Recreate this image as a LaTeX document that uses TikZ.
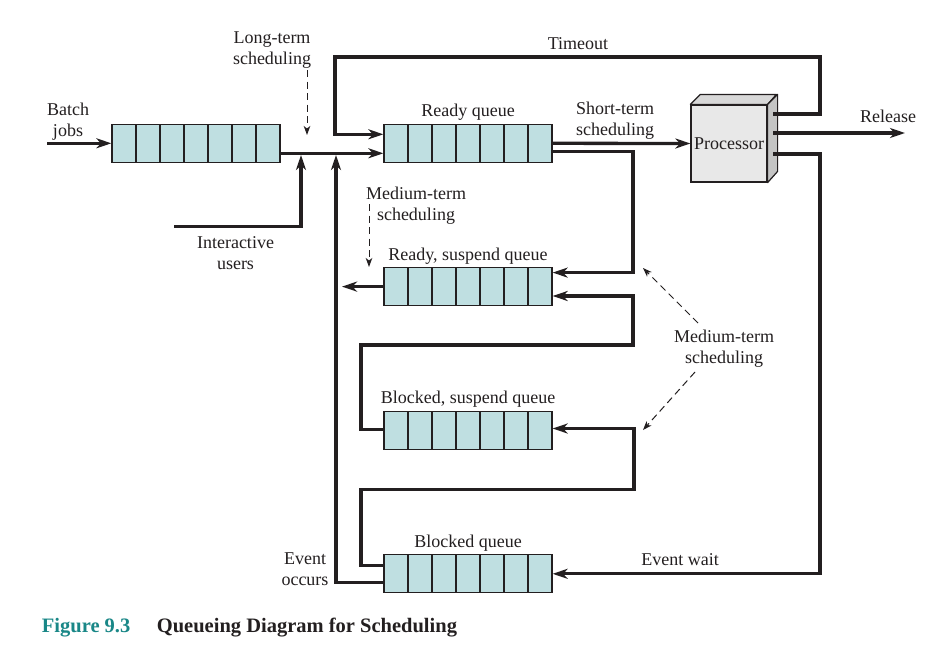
\documentclass[tikz,border=0pt]{standalone}
\usepackage{fontspec}
\setmainfont{Liberation Serif}
\usetikzlibrary{arrows.meta}
\definecolor{qfill}{RGB}{191,223,225}
\definecolor{procfront}{RGB}{232,232,232}
\definecolor{procside}{RGB}{196,196,196}
\definecolor{proctop}{RGB}{216,216,216}
\definecolor{ink}{RGB}{35,31,32}
\definecolor{figteal}{RGB}{25,135,135}
\begin{document}
\begin{tikzpicture}[x=1pt,y=-1pt,
  queue/.style={draw=ink, line width=1.3pt, fill=qfill, minimum width=168pt, minimum height=38pt, inner sep=0pt,
    path picture={\foreach \k in {1,...,6}{\draw[line width=1.3pt, ink] ([xshift={\k*24pt}]path picture bounding box.south west) -- ([xshift={\k*24pt}]path picture bounding box.north west);}}},
  procbox/.style={draw=ink, line width=1.2pt, fill=procfront, minimum width=76pt, minimum height=77pt, inner sep=0pt, font=\fontsize{18}{21}\selectfont, text=ink},
  conn/.style={draw=ink, line width=3.3pt},
  connarr/.style={conn, -{Stealth[length=15pt,width=10pt,inset=4.5pt]}},
  dconn/.style={draw=ink, line width=1pt, dash pattern=on 7pt off 4.5pt, -{Stealth[length=9pt,width=6.5pt,inset=2.5pt]}},
  lbl/.style={font=\fontsize{18}{21}\selectfont, align=center, inner sep=0pt, text=ink}
]
\fill[white] (0,0) rectangle (947,654);
\useasboundingbox (0,0) rectangle (947,654);

% queues
\node[queue] (batch) at (196,143.3) {};
\node[queue] (ready) at (468,143.3) {};
\node[queue] (rsusp) at (468,286.6) {};
\node[queue] (bsusp) at (468,430.5) {};
\node[queue] (blocked) at (468,573.8) {};

% processor
\node[procbox] (proc) at (729,143.5) {Processor};
\filldraw[fill=proctop, draw=ink, line width=1.2pt, line join=round] (proc.north west) -- ++(10,-10) -- ++(76,0) -- (proc.north east) -- cycle;
\filldraw[fill=procside, draw=ink, line width=1.2pt, line join=round] (proc.north east) -- ++(10,-10) -- ++(0,77) -- (proc.south east) -- cycle;

% coordinates
\coordinate (bin) at (47,143.3);
\coordinate (iu) at (174,226.7);
\coordinate (iut) at (301,155);
\coordinate (eot) at (336,155);
\coordinate (pout1) at (773,114);
\coordinate (pout2) at (773,133);
\coordinate (pout3) at (773,154);
\coordinate (to1) at (820,57);
\coordinate (to2) at (335,134.3);
\coordinate (rel) at (905,133);
\coordinate (ew) at (820,573.8);
\coordinate (c1) at (633,272.6);
\coordinate (c2) at (361,345);
\coordinate (c3) at (633,296);
\coordinate (rso) at (342,286.6);
\coordinate (c4) at (361,489.3);
\coordinate (c5) at (634,428.5);
\coordinate (lt1) at (307,70);
\coordinate (lt2) at (307,135);
\coordinate (mt1) at (369,204);
\coordinate (mt2) at (369,267);
\coordinate (mr1) at (698,323);
\coordinate (mr2) at (643,268);
\coordinate (mr3) at (695,372);
\coordinate (mr4) at (643,430);

% connectors
\draw[connarr] (bin) -- (batch.west);
\draw[connarr] ([yshift=-10pt]batch.east) -- ([yshift=-10pt]ready.west);
\draw[connarr] (iu) -| (iut);
\draw[connarr] ([yshift=-9pt]blocked.west) -| (eot);
\draw[connarr] (pout1) -| (to1) -| (to2) -- ([yshift=9pt]ready.west);
\draw[connarr] (ready.east) -- (proc.west);
\draw[connarr] (pout2) -- (rel);
\draw[connarr] (pout3) -| (ew) -- (blocked.east);
\draw[connarr] ([yshift=-8.5pt]ready.east) -| (c1) -- ([yshift=14pt]rsusp.east);
\draw[connarr] ([yshift=1pt]bsusp.west) -| (c2) -| (c3) -- ([yshift=-9.4pt]rsusp.east);
\draw[connarr] (rsusp.west) -- (rso);
\draw[connarr] ([yshift=8pt]blocked.west) -| (c4) -| (c5) -- ([yshift=2pt]bsusp.east);

% dashed scheduling arrows
\draw[dconn] (lt1) -- (lt2);
\draw[dconn] (mt1) -- (mt2);
\draw[dconn] (mr1) -- (mr2);
\draw[dconn] (mr3) -- (mr4);

% labels
\node[lbl] (lLong) at (272,50.5) {Long-term\\scheduling};
\node[lbl] (lBatch) at (68,122) {Batch\\jobs};
\node[lbl] (lInter) at (235.5,253.5) {Interactive\\users};
\node[lbl] (lTimeout) at (578,44) {Timeout};
\node[lbl] (lReady) at (468,112) {Ready queue};
\node[lbl] (lShort) at (615,121) {Short-term\\scheduling};
\node[lbl] (lRelease) at (888,116.5) {Release};
\node[lbl] (lMed1) at (416,206) {Medium-term\\scheduling};
\node[lbl] (lRS) at (468,256.5) {Ready, suspend queue};
\node[lbl] (lMed2) at (724,349) {Medium-term\\scheduling};
\node[lbl] (lBS) at (468,399.5) {Blocked, suspend queue};
\node[lbl] (lBQ) at (468,543.5) {Blocked queue};
\node[lbl] (lEW) at (680,560) {Event wait};
\node[lbl] (lEO) at (305,569) {Event\\occurs};

% caption
\node[anchor=west, inner sep=0pt, font=\fontsize{20.5}{24}\selectfont\bfseries, text=figteal] (figno) at (41.7,627.5) {Figure 9.3};
\node[anchor=west, inner sep=0pt, font=\fontsize{20.5}{24}\selectfont\bfseries, text=ink] (figtitle) at (156.7,627.5) {Queueing Diagram for Scheduling};
\end{tikzpicture}
\end{document}
